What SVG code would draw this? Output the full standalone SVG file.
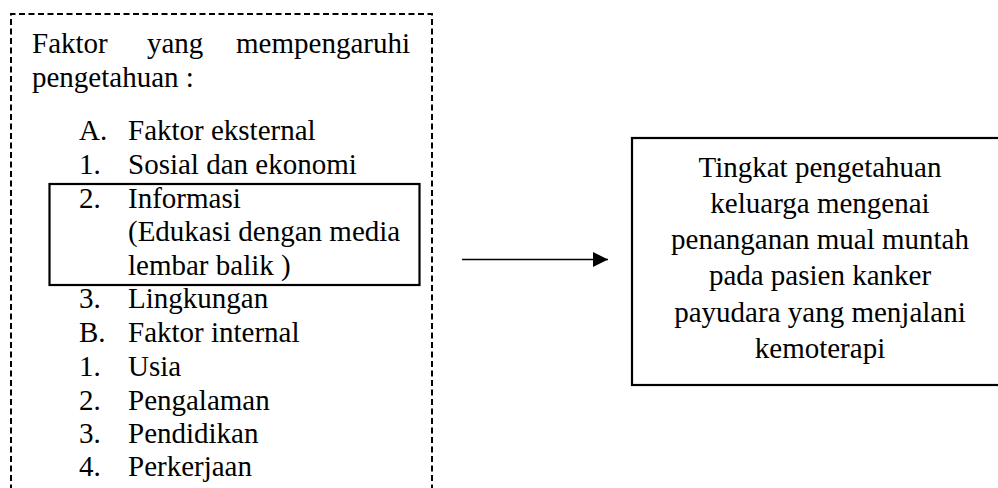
<svg xmlns="http://www.w3.org/2000/svg" width="998" height="488" viewBox="0 0 998 488">
<style>
text{font-family:'Liberation Serif',serif;font-size:29px;fill:#000}
.c{text-anchor:middle}
.e{text-anchor:end}
.box{fill:none;stroke:#000;stroke-width:2.2}
.dash{fill:none;stroke:#000;stroke-width:2;stroke-dasharray:6 3.5}
</style>
<defs>
<marker id="arr" viewBox="0 0 15 15" refX="15" refY="7.5" markerWidth="15" markerHeight="15" markerUnits="userSpaceOnUse" orient="auto">
<path d="M0,0 L15,7.5 L0,15 Z" fill="#000"/>
</marker>
</defs>
<rect width="998" height="488" fill="#fff"/>
<g id="factors">
<path class="dash" d="M11,500 V14 H432 V500"/>
<text x="32" y="53">Faktor</text>
<text x="147" y="53">yang</text>
<text class="e" x="410" y="53">mempengaruhi</text>
<text x="32" y="87">pengetahuan :</text>
<text x="79" y="140">A.</text><text x="128" y="140">Faktor eksternal</text>
<text x="79" y="174">1.</text><text x="128" y="174">Sosial dan ekonomi</text>
<text x="79" y="208">2.</text><text x="128" y="208">Informasi</text>
<text x="128" y="241">(Edukasi dengan media</text>
<text x="128" y="275">lembar balik )</text>
<text x="79" y="308">3.</text><text x="128" y="308">Lingkungan</text>
<text x="79" y="342">B.</text><text x="128" y="342">Faktor internal</text>
<text x="79" y="376">1.</text><text x="128" y="376">Usia</text>
<text x="79" y="410">2.</text><text x="128" y="410">Pengalaman</text>
<text x="79" y="443">3.</text><text x="128" y="443">Pendidikan</text>
<text x="79" y="476">4.</text><text x="128" y="476">Perkerjaan</text>
</g>
<g id="informasi">
<rect class="box" x="49.5" y="184" width="370" height="101"/>
</g>
<g id="outcome">
<rect class="box" x="632" y="138" width="380" height="247"/>
<text class="c" x="820" y="177">Tingkat pengetahuan</text>
<text class="c" x="820" y="213">keluarga mengenai</text>
<text class="c" x="820" y="249">penanganan mual muntah</text>
<text class="c" x="820" y="285">pada pasien kanker</text>
<text class="c" x="820" y="322">payudara yang menjalani</text>
<text class="c" x="820" y="358">kemoterapi</text>
</g>
<g id="connectors">
<line x1="462" y1="259.5" x2="608" y2="259.5" stroke="#000" stroke-width="1.3" marker-end="url(#arr)"/>
</g>
</svg>
